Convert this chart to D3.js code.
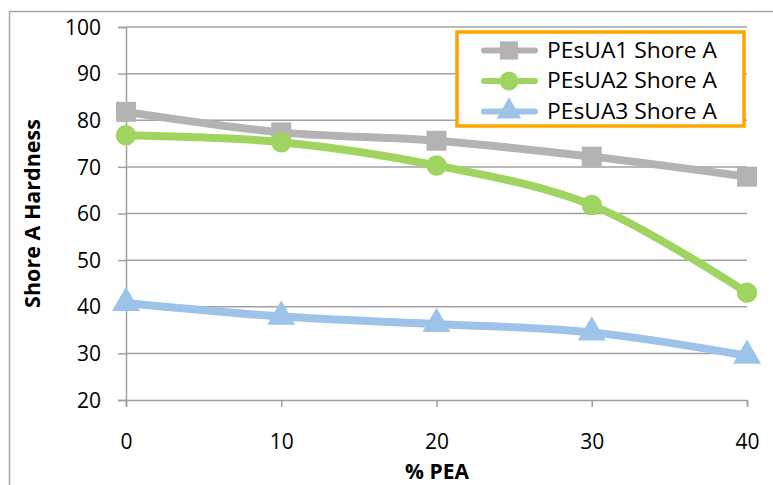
<!DOCTYPE html>
<html>
<head>
<meta charset="utf-8">
<script src="https://cdn.jsdelivr.net/npm/d3@7"></script>
<style>
  body { margin: 0; background: #fff; }
  svg { display: block; font-family: "Open Sans", "Liberation Sans", sans-serif; }
</style>
</head>
<body>
<div id="chart"></div>
<script>
// % PEA on the x axis
const pea = [0, 10, 20, 30, 40]
const shoreA1 = [81.8, 77.4, 75.6, 72.2, 67.9]
const shoreA2 = [76.8, 75.3, 70.3, 61.8, 43.0]
const shoreA3 = [40.8, 37.9, 36.3, 34.5, 29.5]
const yTicks = [20, 30, 40, 50, 60, 70, 80, 90, 100]
const seriesNames = ['PEsUA1 Shore A', 'PEsUA2 Shore A', 'PEsUA3 Shore A']

const width = 773
const height = 485
const margin = { left: 126, right: 26, top: 27, bottom: 85 }

const series = [
  { name: seriesNames[0], values: shoreA1, color: '#b3b3b3', marker: 'square' },
  { name: seriesNames[1], values: shoreA2, color: '#9fd461', marker: 'circle' },
  { name: seriesNames[2], values: shoreA3, color: '#9dc3e8', marker: 'triangle' }
]

const svg = d3.select('#chart').append('svg')
  .attr('width', width)
  .attr('height', height)

// outer chart frame (runs off the bottom/right edge)
svg.append('rect')
  .attr('x', 9.5).attr('y', 11.5)
  .attr('width', 800).attr('height', 500)
  .attr('fill', 'none')
  .attr('stroke', '#a6a6a6')
  .attr('stroke-width', 1.5)

const x = d3.scaleLinear()
  .domain([0, 40])
  .range([margin.left, width - margin.right])

const y = d3.scaleLinear()
  .domain([20, 100])
  .range([height - margin.bottom, margin.top])

// y axis
const yAxis = svg.append('g')
  .attr('transform', `translate(${margin.left},0)`)
  .call(d3.axisLeft(y).tickValues(yTicks).tickSize(8).tickPadding(17))
yAxis.select('.domain').attr('stroke', '#a0a0a0').attr('stroke-width', 1.5)
yAxis.selectAll('.tick line').attr('stroke', '#a0a0a0').attr('stroke-width', 1.5)
yAxis.selectAll('.tick text')
  .attr('font-size', 21)
  .attr('fill', '#000')
  .attr('font-family', '"Open Sans", sans-serif')
  .attr('dy', '0.34em')

// horizontal gridlines
svg.append('g')
  .selectAll('line')
  .data(yTicks.slice(1))
  .join('line')
  .attr('x1', margin.left)
  .attr('x2', x(40))
  .attr('y1', d => y(d))
  .attr('y2', d => y(d))
  .attr('stroke', '#a0a0a0')
  .attr('stroke-width', 1.5)

// x axis
const xAxis = svg.append('g')
  .attr('transform', `translate(0,${y(20)})`)
  .call(d3.axisBottom(x).tickValues(pea).tickSize(7).tickPadding(27))
xAxis.select('.domain').attr('stroke', '#a0a0a0').attr('stroke-width', 1.5)
xAxis.selectAll('.tick line').attr('stroke', '#a0a0a0').attr('stroke-width', 1.5)
xAxis.selectAll('.tick text')
  .attr('font-size', 21)
  .attr('fill', '#000')
  .attr('font-family', '"Open Sans", sans-serif')

// axis titles
svg.append('text')
  .attr('x', 437).attr('y', 479)
  .attr('text-anchor', 'middle')
  .attr('font-size', 21)
  .attr('font-weight', 'bold')
  .text('% PEA')

svg.append('text')
  .attr('transform', `translate(40, ${(y(20) + y(100)) / 2}) rotate(-90)`)
  .attr('text-anchor', 'middle')
  .attr('font-size', 21.5)
  .attr('font-weight', 'bold')
  .text('Shore A Hardness')

// lines
const line = d3.line()
  .x((d, i) => x(pea[i]))
  .y(d => y(d))
  .curve(d3.curveCatmullRom.alpha(0.5))

const symbolFor = {
  square: d3.symbol().type(d3.symbolSquare).size(400),
  circle: d3.symbol().type(d3.symbolCircle).size(330),
  triangle: d3.symbol().type(d3.symbolTriangle).size(340)
}

series.forEach(s => {
  const g = svg.append('g')
  g.append('path')
    .datum(s.values)
    .attr('d', line)
    .attr('fill', 'none')
    .attr('stroke', s.color)
    .attr('stroke-width', 8)
    .attr('stroke-linejoin', 'round')

  g.selectAll('path.mark')
    .data(s.values)
    .join('path')
    .attr('class', 'mark')
    .attr('d', symbolFor[s.marker])
    .attr('transform', (d, i) => `translate(${x(pea[i])},${y(d)})`)
    .attr('fill', s.color)
})

// legend
const legend = svg.append('g')
legend.append('rect')
  .attr('x', 457).attr('y', 32)
  .attr('width', 287).attr('height', 94)
  .attr('fill', '#fff')
  .attr('stroke', '#ffa500')
  .attr('stroke-width', 3.5)

const legendSymbols = {
  square: d3.symbol().type(d3.symbolSquare).size(330),
  circle: d3.symbol().type(d3.symbolCircle).size(280),
  triangle: d3.symbol().type(d3.symbolTriangle).size(260)
}

series.forEach((s, i) => {
  const cy = 50.5 + i * 30.5
  legend.append('line')
    .attr('x1', 484).attr('x2', 535)
    .attr('y1', cy).attr('y2', cy)
    .attr('stroke', s.color)
    .attr('stroke-width', 6)
    .attr('stroke-linecap', 'round')
  legend.append('path')
    .attr('d', legendSymbols[s.marker])
    .attr('transform', `translate(509,${cy})`)
    .attr('fill', s.color)
  legend.append('text')
    .attr('x', 547).attr('y', cy)
    .attr('dy', '0.35em')
    .attr('font-size', 21)
    .attr('textLength', 170)
    .attr('lengthAdjust', 'spacingAndGlyphs')
    .text(s.name)
})
</script>
</body>
</html>
